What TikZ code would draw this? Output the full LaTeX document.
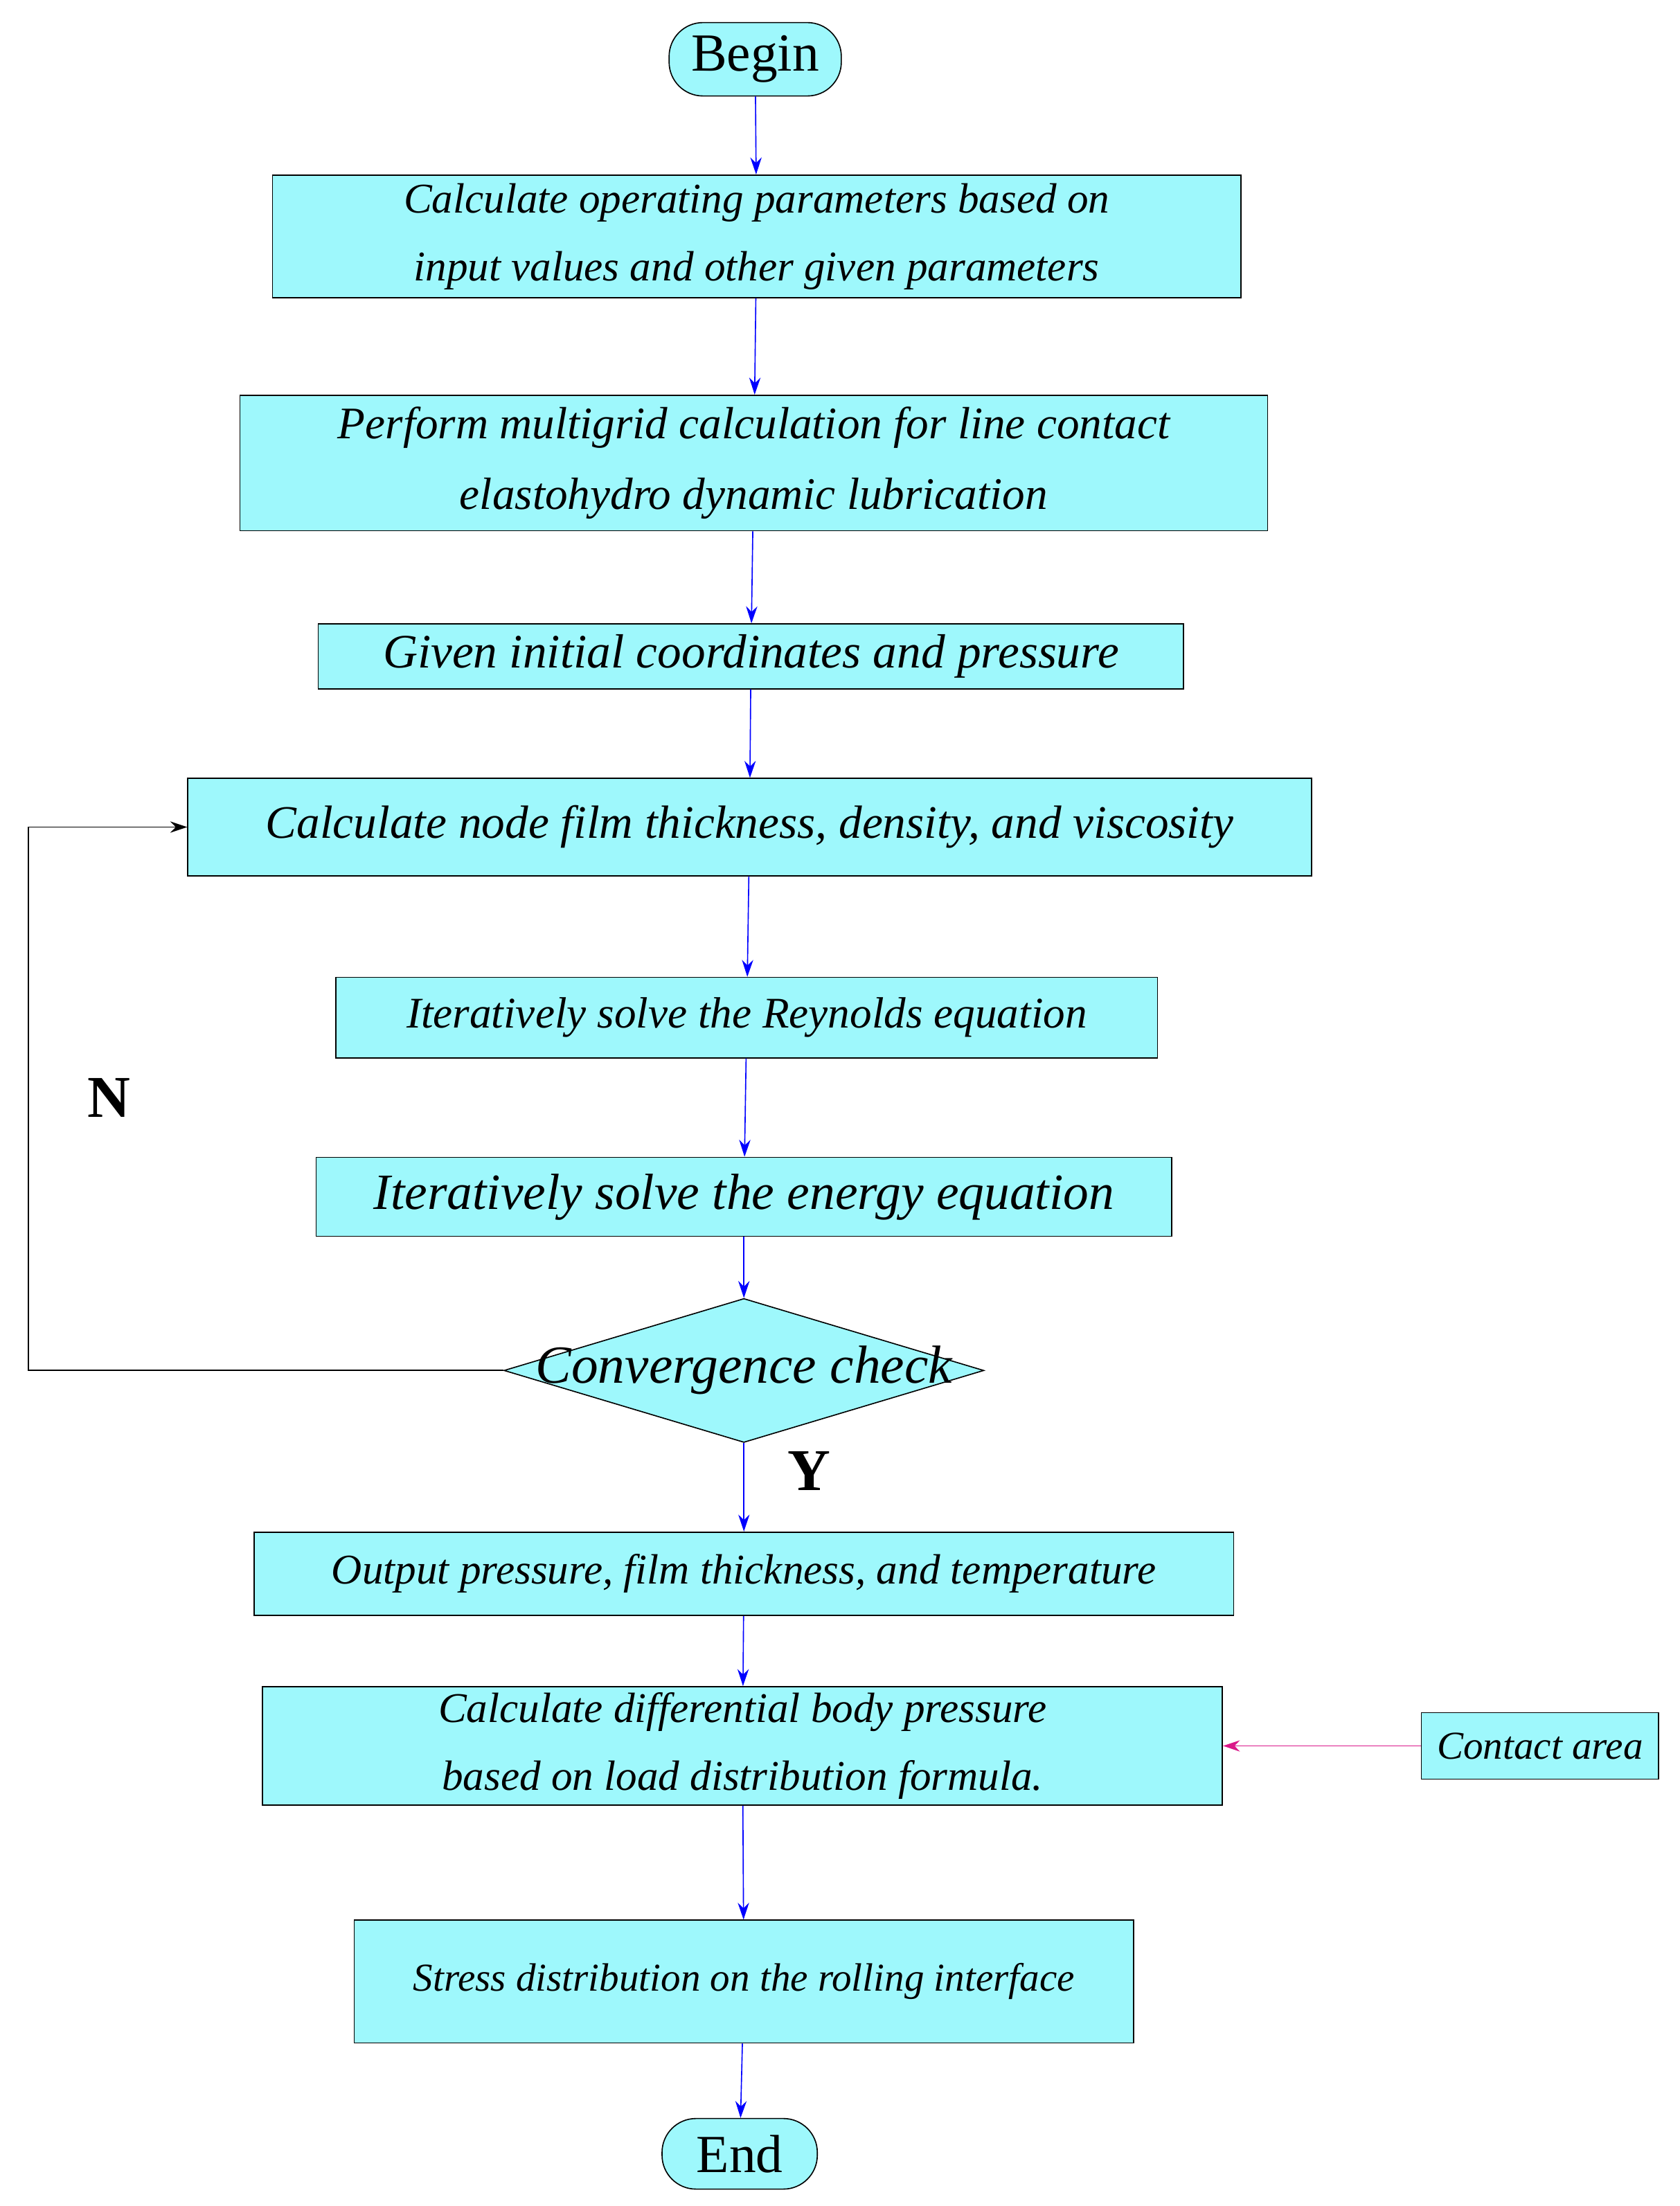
\documentclass[tikz,border=0pt]{standalone}
\usepackage{fontspec}
\setmainfont{Liberation Serif}
\usetikzlibrary{shapes.geometric,arrows.meta}
\definecolor{fill}{HTML}{9EF8FC}
\begin{document}
\begin{tikzpicture}[x=1pt,y=1pt,
 box/.style={draw,thick,fill=fill,minimum width=#1,inner sep=0pt,align=center,font=\itshape\fontsize{30}{48}\selectfont},
 term/.style={draw,thick,fill=fill,rounded corners=24pt,inner sep=0pt,font=\fontsize{38}{40}\selectfont},
 arr/.style={-{Stealth[length=12pt,width=8pt]},blue,thick}]
\useasboundingbox (0,0) rectangle (1190,-1563);
\node[term,minimum width=122,minimum height=52] (b) at (535,-42) {Begin};
\node[box=686,minimum height=87] (n1) at (536,-167.5) {Calculate operating parameters based on\\input values and other given parameters};
\node[box=728,minimum height=96,font=\itshape\fontsize{32}{50}\selectfont] (n2) at (534,-328) {Perform multigrid calculation for line contact\\elastohydro dynamic lubrication};
\node[box=613,minimum height=46,font=\itshape\fontsize{34}{40}\selectfont] (n3) at (532,-465) {Given initial coordinates and pressure};
\node[box=796,minimum height=69,font=\itshape\fontsize{33}{40}\selectfont] (n4) at (531,-586) {Calculate node film thickness, density, and viscosity};
\node[box=582,minimum height=57,font=\itshape\fontsize{31}{40}\selectfont] (n5) at (529,-721) {Iteratively solve the Reynolds equation};
\node[box=606,minimum height=56,font=\itshape\fontsize{36}{40}\selectfont] (n6) at (527,-848) {Iteratively solve the energy equation};
\node[draw,thick,fill=fill,diamond,minimum width=340,minimum height=102,inner sep=0pt] (d) at (527,-971) {};
\node[font=\itshape\fontsize{38}{40}\selectfont] at (d) {Convergence check};
\node[box=694,minimum height=59,font=\itshape\fontsize{30}{40}\selectfont] (n7) at (527,-1115) {Output pressure, film thickness, and temperature};
\node[box=680,minimum height=84] (n8) at (526,-1237) {Calculate differential body pressure\\based on load distribution formula.};
\node[box=168,minimum height=47,font=\itshape\fontsize{28}{40}\selectfont] (c) at (1091,-1237) {Contact area};
\node[box=552,minimum height=87,font=\itshape\fontsize{28}{40}\selectfont] (n9) at (527,-1404) {Stress distribution on the rolling interface};
\node[term,minimum width=110,minimum height=50] (e) at (524,-1526) {End};
\node[font=\bfseries\fontsize{42}{44}\selectfont] (N) at (77,-778) {N};
\node[font=\bfseries\fontsize{42}{44}\selectfont] (Y) at (573,-1042) {Y};
\coordinate (l1) at (20,-971); \coordinate (l2) at (20,-586);
\foreach \a/\b in {b/n1,n1/n2,n2/n3,n3/n4,n4/n5,n5/n6,n6/d,d/n7,n7/n8,n8/n9,n9/e}
  \draw[arr] (\a) -- (\b);
\draw[-{Stealth[length=12pt,width=8pt]},thick] (d.west) -- (l1) -- (l2) -- (n4.west);
\draw[-{Stealth[length=12pt,width=8pt]},magenta!80!violet,thick] (c) -- (n8);
\end{tikzpicture}
\end{document}
